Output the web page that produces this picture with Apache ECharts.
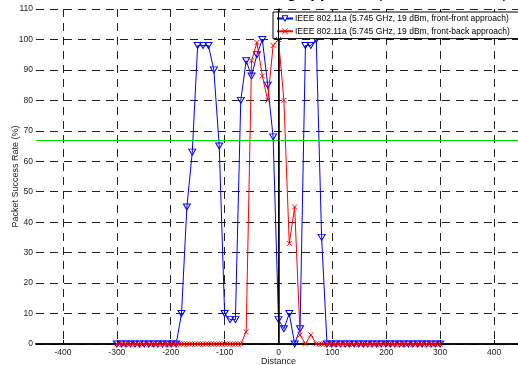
<!DOCTYPE html>
<html>
<head>
<meta charset="utf-8">
<script src="https://cdn.jsdelivr.net/npm/echarts@6/dist/echarts.min.js"></script>
<style>
  html, body { margin: 0; padding: 0; background: #fff; }
  #chart { width: 518px; height: 365px; }
</style>
</head>
<body>
<div id="chart"></div>
<script>
// front-front approach (blue, triangles)
const distFF = [-300, -291.5, -283, -274.6, -266.2, -257.7, -249.2, -240.8, -232.3, -223.8, -215.4, -206.9, -198.5, -190,
    -180, -170, -160, -150, -140, -130, -120, -110, -100, -90, -80, -70, -60, -50, -40, -30, -20, -10,
    0, 10, 20, 30, 40, 50, 60, 70, 80,
    90, 98.4, 106.8, 115.2, 123.6, 132, 140.4, 148.8, 157.2, 165.6, 174, 182.4, 190.8, 199.2, 207.6,
    216, 224.4, 232.8, 241.2, 249.6, 258, 266.4, 274.8, 283.2, 291.6, 300];
const rateFF = [0, 0, 0, 0, 0, 0, 0, 0, 0, 0, 0, 0, 0, 0,
    10, 45, 63, 98, 98, 98, 90, 65, 10, 8, 8, 80, 93, 88, 95, 100, 85, 68,
    8, 5, 10, 0, 5, 98, 98, 100, 35,
    0, 0, 0, 0, 0, 0, 0, 0, 0, 0, 0, 0, 0, 0, 0,
    0, 0, 0, 0, 0, 0, 0, 0, 0, 0, 0];

// front-back approach (red, crosses)
const distFB = [-300, -295, -290, -285, -280, -275, -270, -265, -260, -255, -250, -245, -240, -235, -230, -225,
    -220, -215, -210, -205, -200, -195, -190, -185, -180, -175, -170, -165, -160, -155, -150, -145,
    -140, -135, -130, -125, -120, -115, -110, -105, -100, -95, -90, -85, -80, -75, -70,
    -60, -50, -40, -30, -20, -10, 0, 10, 20, 30, 40, 50, 60,
    70, 75, 80, 85, 90, 95, 100, 105, 110, 115, 120, 125, 130, 135, 140, 145, 150, 155, 160, 165,
    170, 175, 180, 185, 190, 195, 200, 205, 210, 215, 220, 225, 230, 235, 240, 245, 250, 255, 260,
    265, 270, 275, 280, 285, 290, 295, 300];
const rateFB = [0, 0, 0, 0, 0, 0, 0, 0, 0, 0, 0, 0, 0, 0, 0, 0,
    0, 0, 0, 0, 0, 0, 0, 0, 0, 0, 0, 0, 0, 0, 0, 0,
    0, 0, 0, 0, 0, 0, 0, 0, 0, 0, 0, 0, 0, 0, 0,
    4, 93, 99, 88, 80, 98, 100, 80, 33, 45, 3, 0, 3,
    0, 0, 0, 0, 0, 0, 0, 0, 0, 0, 0, 0, 0, 0, 0, 0, 0, 0, 0, 0,
    0, 0, 0, 0, 0, 0, 0, 0, 0, 0, 0, 0, 0, 0, 0, 0, 0, 0, 0,
    0, 0, 0, 0, 0, 0, 0, 0];

const xTicks = [-400, -300, -200, -100, 0, 100, 200, 300, 400];
const threshold = 66.8;

const nameFF = 'IEEE 802.11a (5.745 GHz, 19 dBm, front-front approach)';
const nameFB = 'IEEE 802.11a (5.745 GHz, 19 dBm, front-back approach)';

const font = 'Liberation Sans, Arial, sans-serif';
const gridDash = { color: '#222', width: 1, type: [8, 6] };

const chart = echarts.init(document.getElementById('chart'));

// reference lines kept on their own empty series
const refLine = (name, item, color) => ({
    name,
    type: 'line',
    data: [],
    z: 2,
    markLine: {
        silent: true,
        symbol: 'none',
        label: { show: false },
        lineStyle: { color, width: 1, type: 'solid', opacity: 1 },
        emphasis: { disabled: true },
        data: [item]
    }
});

const option = {
    animation: false,
    backgroundColor: '#fff',
    textStyle: { fontFamily: font },
    graphic: [{
        type: 'text',
        x: 508,
        y: -14,
        z: 0,
        style: {
            text: '{b|Packet Success Rate during approach} {n|(802.11a, 19 dBm)}',
            align: 'right',
            verticalAlign: 'top',
            rich: {
                b: { fontFamily: font, fontSize: 16, fontWeight: 'bold', fill: '#000' },
                n: { fontFamily: font, fontSize: 16, fill: '#000' }
            }
        }
    }],
    grid: { left: 36, top: 9, right: -3, bottom: 21, containLabel: false, outerBoundsMode: 'none' },
    legend: {
        left: 273,
        top: 12,
        orient: 'vertical',
        itemWidth: 16,
        itemHeight: 7,
        itemGap: 3,
        padding: [2, 10, 2, 3],
        backgroundColor: '#fff',
        borderColor: '#000',
        borderWidth: 1,
        borderRadius: 0,
        textStyle: { fontFamily: font, fontSize: 8.5, color: '#000', padding: [0, 0, 0, -3] },
        data: [
            { name: nameFF, itemStyle: { color: '#fff', borderColor: '#0000ff', borderWidth: 1 } },
            { name: nameFB, itemStyle: { color: 'none', borderColor: '#ff0000', borderWidth: 1 } }
        ]
    },
    xAxis: [{
        type: 'value',
        min: -450,
        max: 450,
        name: 'Distance',
        nameLocation: 'middle',
        nameGap: 13,
        nameMoveOverlap: false,
        nameTextStyle: { fontFamily: font, fontSize: 9, color: '#222' },
        axisLine: { show: true, onZero: false, lineStyle: { color: '#000', width: 1.5 } },
        axisTick: { show: true, inside: true, length: 4, customValues: xTicks, lineStyle: { color: '#000' } },
        axisLabel: { customValues: xTicks, fontSize: 8.5, color: '#222', margin: 4, fontFamily: font },
        splitLine: { show: true, lineStyle: gridDash }
    }, {
        type: 'value',
        position: 'top',
        min: -450,
        max: 450,
        axisLine: { show: true, lineStyle: { color: '#000', width: 1.5 } },
        axisTick: { show: false },
        axisLabel: { show: false },
        splitLine: { show: false }
    }],
    yAxis: {
        type: 'value',
        min: 0,
        max: 110,
        interval: 10,
        name: 'Packet Success Rate (%)',
        nameLocation: 'middle',
        nameGap: 16,
        nameMoveOverlap: false,
        nameTextStyle: { fontFamily: font, fontSize: 9, color: '#222' },
        axisLine: { show: true, lineStyle: { color: '#000', width: 1.5 } },
        axisTick: { show: true, inside: false, length: 2, lineStyle: { color: '#000' } },
        axisLabel: { fontSize: 8.5, color: '#222', margin: 3, fontFamily: font },
        splitLine: { show: true, lineStyle: gridDash }
    },
    series: [
        refLine('threshold', { yAxis: threshold }, '#00e000'),
        refLine('origin', { xAxis: 0 }, '#000000'),
        {
            name: nameFF,
            type: 'line',
            data: distFF.map((d, i) => [d, rateFF[i]]),
            color: '#0000ff',
            symbol: 'triangle',
            symbolRotate: 180,
            symbolSize: [7, 6],
            showAllSymbol: true,
            clip: false,
            lineStyle: { color: '#0000ff', width: 1 },
            itemStyle: { color: 'none', borderColor: '#0000ff', borderWidth: 1 },
            z: 3
        }, {
            name: nameFB,
            type: 'line',
            data: distFB.map((d, i) => [d, rateFB[i]]),
            color: '#ff0000',
            symbol: 'path://M0,0L10,10M0,10L10,0',
            symbolSize: 5,
            showAllSymbol: true,
            clip: false,
            lineStyle: { color: '#ff0000', width: 1 },
            itemStyle: { color: 'none', borderColor: '#ff0000', borderWidth: 1 },
            z: 4
        }
    ]
};

chart.setOption(option);
</script>
</body>
</html>
